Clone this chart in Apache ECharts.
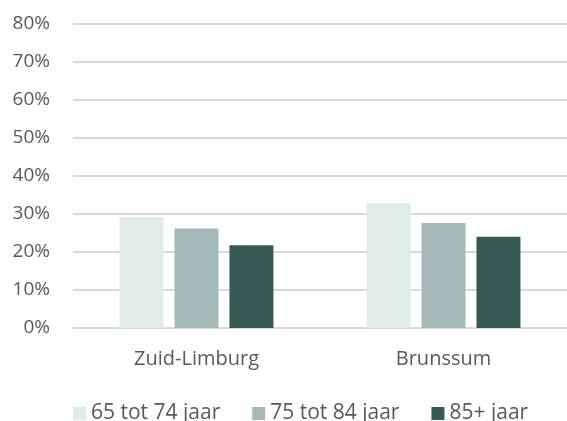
<!DOCTYPE html>
<html>
<head>
<meta charset="utf-8">
<script src="https://cdn.jsdelivr.net/npm/echarts@6/dist/echarts.min.js"></script>
<style>
  html, body { margin: 0; padding: 0; background: #ffffff; }
  #chart { width: 567px; height: 421px; }
</style>
</head>
<body>
<div id="chart"></div>
<script>
// Regions on the category axis
const regions = ['Zuid-Limburg', 'Brunssum'];

// Share per age group (percent)
const age65to74 = [29.2, 32.8];
const age75to84 = [26.2, 27.6];
const age85plus = [21.8, 24.0];

const seriesNames = ['65 tot 74 jaar', '75 tot 84 jaar', '85+ jaar'];
const seriesColors = ['#dfebe9', '#a5b9b6', '#375b54'];

const textColor = '#595959';
const fontFamily = '"Open Sans", "Noto Sans", sans-serif';

const chart = echarts.init(document.getElementById('chart'), null, { renderer: 'canvas' });

const values = [age65to74, age75to84, age85plus];

chart.setOption({
  animation: false,
  backgroundColor: '#ffffff',
  grid: { left: 73, right: 0, top: 24, bottom: 93 },
  legend: {
    top: 398,
    left: 68,
    itemWidth: 13,
    itemHeight: 13,
    itemGap: 32,
    icon: 'rect',
    textStyle: { color: textColor, fontSize: 21, fontFamily: fontFamily },
    data: seriesNames
  },
  xAxis: {
    type: 'category',
    data: regions,
    axisLine: { show: true, lineStyle: { color: '#d9d9d9', width: 2 } },
    axisTick: { show: false },
    axisLabel: { color: textColor, fontSize: 20, fontFamily: fontFamily, margin: 21 }
  },
  yAxis: {
    type: 'value',
    min: 0,
    max: 80,
    interval: 10,
    axisLine: { show: false },
    axisTick: { show: false },
    splitLine: { lineStyle: { color: '#d9d9d9', width: 2 } },
    axisLabel: {
      color: textColor, fontSize: 19, fontFamily: fontFamily, margin: 23,
      formatter: v => v + '%'
    }
  },
  series: values.map((arr, i) => ({
    name: seriesNames[i],
    type: 'bar',
    data: arr,
    barGap: '25%',
    barCategoryGap: '37.7%',
    itemStyle: { color: seriesColors[i] }
  }))
});
</script>
</body>
</html>
